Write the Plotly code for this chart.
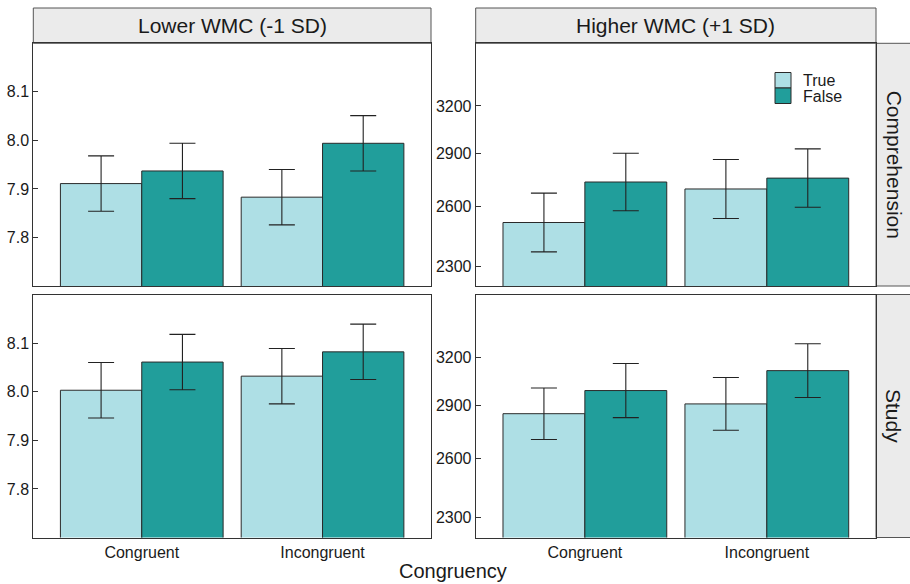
import numpy as np
import plotly.graph_objects as go

# ---------------- data ----------------
categories = ["Congruent", "Incongruent"]
groups = ["True", "False"]
col_labels = ["Lower WMC (-1 SD)", "Higher WMC (+1 SD)"]
row_labels = ["Comprehension", "Study"]

# Lower WMC panels: log RT (ln ms)
low_comp_true = [7.911, 7.883]
low_comp_true_err = [0.057, 0.057]
low_comp_false = [7.937, 7.994]
low_comp_false_err = [0.057, 0.057]
low_study_true = [8.003, 8.032]
low_study_true_err = [0.057, 0.057]
low_study_false = [8.061, 8.082]
low_study_false_err = [0.057, 0.057]

# Higher WMC panels: RT (ms), log-scaled axis
high_comp_true = [2517, 2697]
high_comp_true_hi = [2674, 2866]
high_comp_false = [2736, 2758]
high_comp_false_hi = [2903, 2929]
high_study_true = [2849, 2907]
high_study_true_hi = [3004, 3069]
high_study_false = [2988, 3113]
high_study_false_hi = [3159, 3290]

left_ticks = [7.8, 7.9, 8.0, 8.1]
right_ticks = [2300, 2600, 2900, 3200]
y_range = [7.70, 8.20]

# ---------------- style ----------------
C_TRUE = "#AEDFE5"
C_FALSE = "#219E9B"
EDGE = "#2a2a2a"
FONT = "Liberation Sans, Arial, sans-serif"
W, H = 910, 584

def px_x(v):
    return v / W

def px_y(v):
    return 1 - v / H

x_dom = [[px_x(33.3), px_x(431)], [px_x(475.7), px_x(876)]]
y_dom = [[px_y(286), px_y(43.3)], [px_y(537.5), px_y(294.5)]]

fig = go.Figure()

panels = [
    # (row, col, values_true, err_true, values_false, err_false, is_ms)
    (0, 0, low_comp_true, low_comp_true_err, low_comp_false, low_comp_false_err, False),
    (0, 1, high_comp_true, high_comp_true_hi, high_comp_false, high_comp_false_hi, True),
    (1, 0, low_study_true, low_study_true_err, low_study_false, low_study_false_err, False),
    (1, 1, high_study_true, high_study_true_hi, high_study_false, high_study_false_hi, True),
]

for idx, (r, c, vt, et, vf, ef, is_ms) in enumerate(panels):
    n = idx + 1
    xa = "x" if n == 1 else f"x{n}"
    ya = "y" if n == 1 else f"y{n}"
    for name, vals, errs, color in [("True", vt, et, C_TRUE), ("False", vf, ef, C_FALSE)]:
        if is_ms:
            yv = list(np.log(vals))
            ee = list(np.log(errs) - np.log(vals))
        else:
            yv = vals
            ee = errs
        fig.add_trace(go.Bar(
            x=categories, y=yv, name=name,
            marker=dict(color=color, line=dict(color=EDGE, width=1)),
            error_y=dict(type="data", array=ee, visible=True, color="#222222", thickness=1.1, width=13),
            showlegend=False, legendgroup=name,
            xaxis=xa, yaxis=ya, hoverinfo="skip",
        ))
    xkey = "xaxis" if n == 1 else f"xaxis{n}"
    ykey = "yaxis" if n == 1 else f"yaxis{n}"
    fig.layout[xkey] = dict(
        domain=x_dom[c], anchor=ya, type="category", range=[-0.6, 1.6],
        showline=True, mirror=True, linecolor="#333333", linewidth=1,
        showgrid=False, zeroline=False,
        ticks="", showticklabels=(r == 1),
        tickfont=dict(family=FONT, size=16, color="#1a1a1a"),
    )
    if is_ms:
        tv = list(np.log(right_ticks))
        tt = [str(t) for t in right_ticks]
    else:
        tv = left_ticks
        tt = [f"{t:.1f}" for t in left_ticks]
    fig.layout[ykey] = dict(
        domain=y_dom[r], anchor=xa, range=y_range,
        tickvals=tv, ticktext=tt,
        showline=True, mirror=True, linecolor="#333333", linewidth=1,
        showgrid=False, zeroline=False,
        ticks="inside", ticklen=5, tickcolor="#333333",
        ticklabelstandoff=0,
        tickfont=dict(family=FONT, size=16, color="#1a1a1a"),
    )

fig.update_layout(
    barmode="group", bargap=0.1, bargroupgap=0,
    width=W, height=H,
    margin=dict(l=0, r=0, t=0, b=0),
    paper_bgcolor="white", plot_bgcolor="white",
    font=dict(family=FONT, color="#1a1a1a"),
    showlegend=False,
)

shapes = []
annotations = []
STRIP_FILL = "#EBEBEB"
STRIP_LINE = "#555555"
# column strips
for c in range(2):
    x0, x1 = (33.3, 431) if c == 0 else (475.7, 876)
    shapes.append(dict(type="rect", xref="paper", yref="paper",
                       x0=px_x(x0), x1=px_x(x1), y0=px_y(43.3), y1=px_y(8),
                       fillcolor=STRIP_FILL, line=dict(color=STRIP_LINE, width=1), layer="below"))
    annotations.append(dict(text=col_labels[c], xref="paper", yref="paper",
                            x=px_x((x0 + x1) / 2), y=px_y(26), showarrow=False,
                            font=dict(family=FONT, size=21, color="#1a1a1a"),
                            xanchor="center", yanchor="middle"))
# row strips
for r in range(2):
    y0, y1 = (43.3, 286) if r == 0 else (294.5, 537.5)
    shapes.append(dict(type="rect", xref="paper", yref="paper",
                       x0=px_x(876), x1=px_x(912), y0=px_y(y1), y1=px_y(y0),
                       fillcolor=STRIP_FILL, line=dict(color=STRIP_LINE, width=1), layer="below"))
    annotations.append(dict(text=row_labels[r], xref="paper", yref="paper",
                            x=px_x(894), y=px_y((y0 + y1) / 2), showarrow=False, textangle=90,
                            font=dict(family=FONT, size=21, color="#1a1a1a"),
                            xanchor="center", yanchor="middle"))
# legend (keys inside the top-right panel)
legend_colors = [C_TRUE, C_FALSE]
for i, (g, col) in enumerate(zip(groups, legend_colors)):
    ytop = 72.5 + i * 15.5
    shapes.append(dict(type="rect", xref="paper", yref="paper",
                       x0=px_x(775), x1=px_x(791), y0=px_y(ytop + 15.5), y1=px_y(ytop),
                       fillcolor=col, line=dict(color=EDGE, width=1)))
    annotations.append(dict(text=g, xref="paper", yref="paper",
                            x=px_x(801), y=px_y(ytop + 8), showarrow=False,
                            font=dict(family=FONT, size=16, color="#1a1a1a"),
                            xanchor="left", yanchor="middle"))
# x axis title
annotations.append(dict(text="Congruency", xref="paper", yref="paper",
                        x=px_x(453), y=px_y(571), showarrow=False,
                        font=dict(family=FONT, size=20, color="#1a1a1a"),
                        xanchor="center", yanchor="middle"))

fig.update_layout(shapes=shapes, annotations=annotations)
fig.write_html("out.html", config={"displayModeBar": False},
               post_script="document.body.style.margin='0';document.body.style.overflow='hidden';")
